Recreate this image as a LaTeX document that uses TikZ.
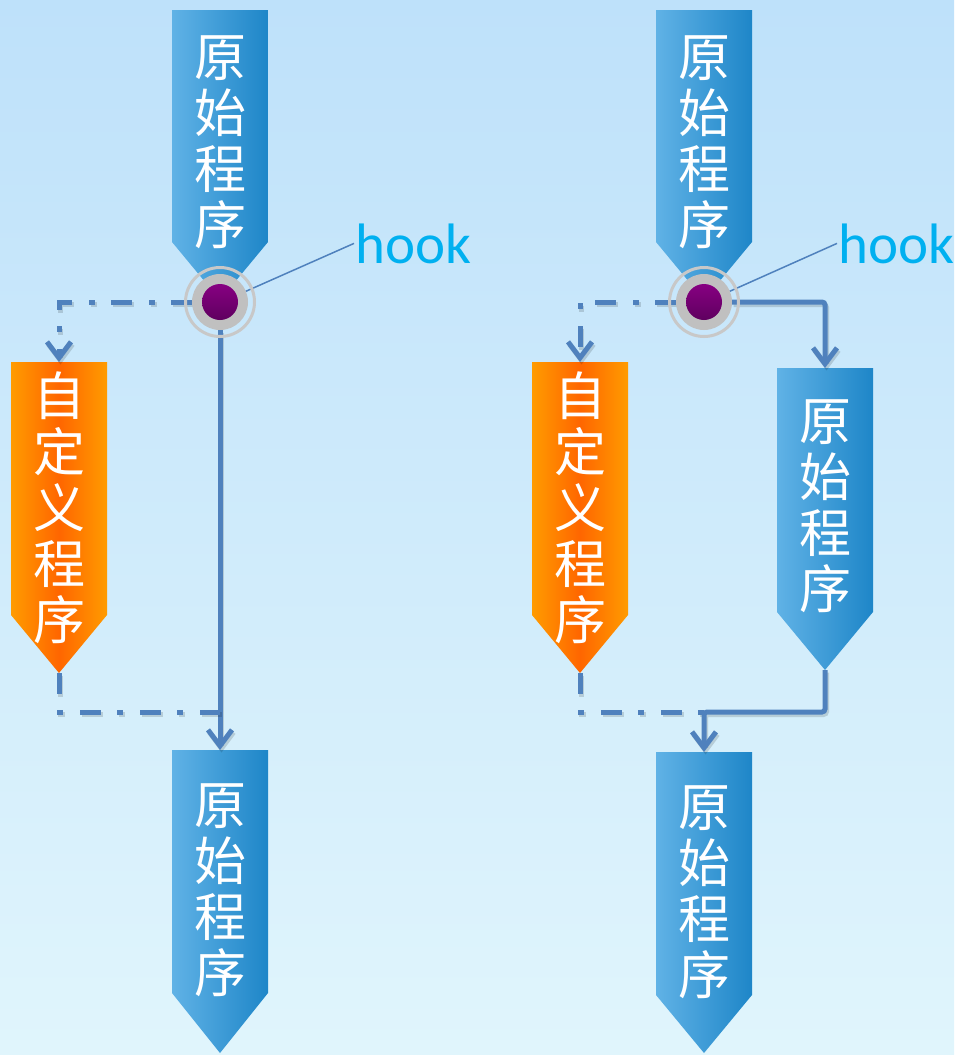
\documentclass[tikz,border=0pt]{standalone}
\usepackage{fontspec}
\newfontfamily\cjk{Noto Sans CJK SC}
\newfontfamily\latinf{Carlito}
\usetikzlibrary{arrows.meta,calc}
\definecolor{bgtop}{RGB}{190,225,250}
\definecolor{bgbot}{RGB}{224,245,252}
\definecolor{blL}{RGB}{96,178,230}
\definecolor{blR}{RGB}{30,134,200}
\definecolor{orE}{RGB}{255,155,0}
\definecolor{orC}{RGB}{255,102,0}
\definecolor{lineb}{RGB}{79,129,189}
\definecolor{ringg}{RGB}{200,200,200}
\definecolor{diskg}{RGB}{192,192,192}
\definecolor{purA}{RGB}{135,0,130}
\definecolor{purB}{RGB}{95,0,95}
\definecolor{hookc}{RGB}{0,176,240}
\pgfdeclarelayer{bg}\pgfdeclarelayer{background}\pgfdeclarelayer{fore}
\pgfsetlayers{bg,background,main,fore}
\tikzset{
 body/.style={draw=none, inner sep=0pt, outer sep=0pt, minimum width=96pt},
 lbl/.style={text=white, font=\cjk\fontsize{52}{56}\selectfont, align=center, inner sep=0pt},
 blueshade/.style={left color=blL, right color=blR},
 orangeshade/.style={left color=orE, right color=orE, middle color=orC},
 dpat/.style={dash pattern=on 21pt off 16pt on 6pt off 17pt},
 conn/.style={draw=lineb, line width=5pt},
 solidc/.style={conn, rounded corners=3pt, preaction={draw=black, draw opacity=0.14, line width=5pt, transform canvas={shift={(1.5,2.5)}}}},
 dashc/.style={conn, dpat, preaction={draw=black, draw opacity=0.14, line width=5pt, dpat, transform canvas={shift={(1.5,2.5)}}}},
 arrowend/.style={-{Straight Barb[length=16pt,width=24pt]}},
 hooktext/.style={text=hookc, font=\latinf\fontsize{57}{62}\selectfont, inner sep=1pt},
 leader/.style={draw=lineb, line width=1.5pt},
 hooknode/.style={circle, draw=none, minimum size=56pt, inner sep=0pt, outer sep=0pt},
}
% #1 name, #2 center x, #3 top y, #4 body bottom y, #5 tip depth, #6 shading style, #7 text y, #8 text
\newcommand\chev[8]{%
 \node[body, minimum height={#4-#3}] (#1) at (#2,{(#3+#4)/2}) {};
 \coordinate (#1tip) at ($(#1.south)+(0,#5)$);
 \begin{pgfonlayer}{background}
 \path[#6] (#1.north west) -- (#1.north east) -- (#1.south east) -- (#1tip) -- (#1.south west) -- cycle;
 \end{pgfonlayer}
 \node[lbl] (#1t) at (#2,#7) {#8};
}
\newcommand\hookmark[1]{%
 \begin{pgfonlayer}{fore}
 \fill[diskg] (#1.center) circle[radius=28pt];
 \draw[ringg, line width=3pt] (#1.center) circle[radius=34.5pt];
 \shade[top color=purA, bottom color=purB] (#1.center) circle[radius=18pt];
 \end{pgfonlayer}
}
\begin{document}
\begin{tikzpicture}[x=1pt,y=-1pt]
\useasboundingbox (0,0) rectangle (954,1055);
\begin{pgfonlayer}{bg}
\shade[top color=bgtop, bottom color=bgbot] (0,0) rectangle (954,1055);
\end{pgfonlayer}
% left column
\chev{t1}{220}{10}{242}{58}{blueshade}{142}{原\\始\\程\\序}
\chev{o1}{59}{362}{615}{58}{orangeshade}{508}{自\\定\\义\\程\\序}
\chev{b1}{220}{750}{993}{60}{blueshade}{890}{原\\始\\程\\序}
% right column
\chev{t2}{704}{10}{242}{58}{blueshade}{142}{原\\始\\程\\序}
\chev{o2}{580}{362}{615}{58}{orangeshade}{508}{自\\定\\义\\程\\序}
\chev{m2}{825}{368}{612}{58}{blueshade}{506}{原\\始\\程\\序}
\chev{b2}{704}{752}{995}{58}{blueshade}{892}{原\\始\\程\\序}
% hooks
\node[hooknode] (h1) at (220,302) {};
\node[hooknode] (h2) at (704,302) {};
\node[hooktext, anchor=base west] (k1) at (354,263) {hook};
\node[hooktext, anchor=base west] (k2) at (837,263) {hook};
\coordinate (j1) at (220,712);
\coordinate (j2) at (704,712);
% connectors left
\draw[dashc, arrowend] (h1.west) -| (o1.north);
\draw[solidc, arrowend] (h1.south) -- (b1.north);
\draw[dashc] (o1tip) |- (j1);
% connectors right
\draw[dashc, arrowend] (h2.west) -| (o2.north);
\draw[solidc, arrowend] (h2.east) -| (m2.north);
\draw[dashc] (o2tip) |- (j2);
\draw[solidc, arrowend] (m2tip) |- (j2) -- (b2.north);
\hookmark{h1}
\hookmark{h2}
\draw[leader] ($(h1.center)+(13,-5)$) -- (k1.west);
\draw[leader] ($(h2.center)+(13,-5)$) -- (k2.west);
\end{tikzpicture}
\end{document}
